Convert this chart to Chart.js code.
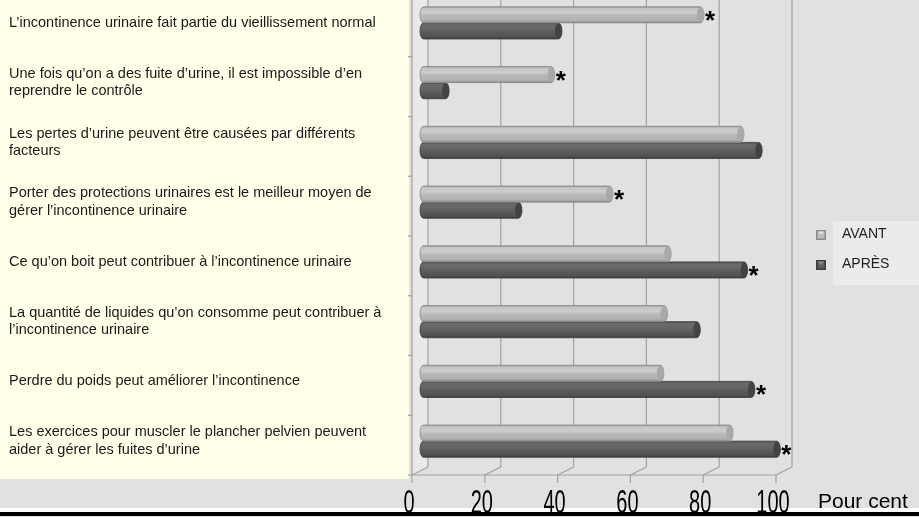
<!DOCTYPE html>
<html lang="fr">
<head>
<meta charset="utf-8">
<title>Incontinence urinaire : avant / après</title>
<script src="https://cdn.jsdelivr.net/npm/chart.js@4.4.1/dist/chart.umd.min.js"></script>
<style>
  html, body { margin: 0; padding: 0; background: #e1e1e1; }
  #wrap { position: relative; width: 919px; height: 517px; overflow: hidden; }
  #chart { position: absolute; left: 0; top: -7px; }
</style>
</head>
<body>
<div id="wrap"><canvas id="chart" width="919" height="524"></canvas></div>
<script>
const categories = [
  'L’incontinence urinaire fait partie du vieillissement normal',
  ['Une fois qu’on a des fuite d’urine, il est impossible d’en', 'reprendre le contrôle'],
  ['Les pertes d’urine peuvent être causées par différents', 'facteurs'],
  ['Porter des protections urinaires est le meilleur moyen de', 'gérer l’incontinence urinaire'],
  'Ce qu’on boit peut contribuer à l’incontinence urinaire',
  ['La quantité de liquides qu’on consomme peut contribuer à', 'l’incontinence urinaire'],
  'Perdre du poids peut améliorer l’incontinence',
  ['Les exercices pour muscler le plancher pelvien peuvent', 'aider à gérer les fuites d’urine']
];
const avant = [78, 37, 89, 53, 69, 68, 67, 86];
const apres = [39, 8, 94, 28, 90, 77, 92, 99];
// différences significatives (astérisque au bout de la barre)
const etoileAvant = [1, 1, 0, 1, 0, 0, 0, 0];
const etoileApres = [0, 0, 0, 0, 1, 0, 1, 1];
const xTicks = [0, 20, 40, 60, 80, 100];
const xTitle = 'Pour cent';

const SHIFT = 7;            // le canvas est remonté de 7px dans la page
const py = v => v + SHIFT;
const FONT = '"Liberation Sans", Arial, sans-serif';

function line(ctx, x1, y1, x2, y2) {
  ctx.beginPath(); ctx.moveTo(x1, y1); ctx.lineTo(x2, y2); ctx.stroke();
}

function cylinder(ctx, x0, x1, yc, h, stops, edge, cap) {
  const t = yc - h / 2, ry = h / 2;
  const r = Math.min(3.5, (x1 - x0) / 2);
  const g = ctx.createLinearGradient(0, t, 0, t + h);
  stops.forEach(s => g.addColorStop(s[0], s[1]));
  ctx.save();
  ctx.beginPath();
  ctx.moveTo(x0 + r, t);
  ctx.lineTo(x1 - r, t);
  ctx.ellipse(x1 - r, yc, r, ry, 0, -Math.PI / 2, Math.PI / 2);
  ctx.lineTo(x0 + r, t + h);
  ctx.ellipse(x0 + r, yc, r, ry, 0, Math.PI / 2, Math.PI * 1.5);
  ctx.closePath();
  ctx.fillStyle = g;
  ctx.fill();
  ctx.strokeStyle = edge;
  ctx.lineWidth = 0.8;
  ctx.stroke();
  // face du bout
  ctx.beginPath();
  ctx.ellipse(x1 - r, yc, r, ry - 0.6, 0, 0, Math.PI * 2);
  ctx.fillStyle = cap;
  ctx.fill();
  ctx.restore();
}

const decor = {
  id: 'decor',
  beforeDraw(chart) {
    const ctx = chart.ctx, a = chart.chartArea;
    const xs = chart.scales.x, ys = chart.scales.y;
    const X = v => xs.getPixelForValue(v);
    const bk = a.bottom - 4, fr = a.bottom + 4;
    ctx.save();
    ctx.fillStyle = '#e1e1e1';
    ctx.fillRect(0, 0, chart.width, chart.height);
    ctx.fillStyle = '#ffffea';
    ctx.fillRect(0, 0, 409, py(479));

    // paroi gauche
    ctx.fillStyle = '#e9e9e9';
    ctx.beginPath();
    ctx.moveTo(X(0) - 8, 0); ctx.lineTo(X(0) + 8, 0);
    ctx.lineTo(X(0) + 8, bk); ctx.lineTo(X(0) - 8, fr);
    ctx.closePath(); ctx.fill();

    ctx.strokeStyle = '#a2a2a2';
    ctx.lineWidth = 1.2;
    xTicks.forEach(v => {
      line(ctx, X(v) + 8, 0, X(v) + 8, bk);
      line(ctx, X(v) + 8, bk, X(v) - 8, fr);
      line(ctx, X(v) - 8, fr, X(v) - 8, fr + 8);
    });
    line(ctx, X(0) - 8, 0, X(0) - 8, fr);
    line(ctx, X(0) - 8, fr, X(100) - 8, fr);

    // graduations de l'axe des catégories
    const step = ys.getPixelForValue(1) - ys.getPixelForValue(0);
    for (let i = 0; i <= categories.length; i++) {
      const y = ys.getPixelForValue(0) - step / 2 + i * step + 4;
      line(ctx, X(0) - 12, y, X(0) - 8, y);
    }
    ctx.restore();
  },
  beforeDatasetDraw(chart, args) {
    const ds = chart.data.datasets[args.index];
    args.meta.data.forEach(bar => {
      cylinder(chart.ctx, bar.base, bar.x, bar.y, bar.height, ds.shade, ds.edge, ds.cap);
    });
    return false;
  },
  afterDatasetsDraw(chart) {
    const ctx = chart.ctx;
    ctx.save();
    ctx.fillStyle = '#000';
    ctx.font = 'bold 26px ' + FONT;
    ctx.textAlign = 'left';
    ctx.textBaseline = 'alphabetic';
    [etoileAvant, etoileApres].forEach((marks, d) => {
      chart.getDatasetMeta(d).data.forEach((bar, i) => {
        if (marks[i]) ctx.fillText('*', bar.x + 1, bar.y + 14);
      });
    });
    ctx.restore();
  },
  afterDraw(chart) {
    const ctx = chart.ctx, xs = chart.scales.x;
    ctx.save();
    ctx.fillStyle = '#ffffff';
    ctx.fillRect(0, py(508), chart.width, 4);

    ctx.fillStyle = '#000';
    ctx.font = '20px ' + FONT;
    ctx.textAlign = 'center';
    ctx.textBaseline = 'alphabetic';
    xTicks.forEach(v => {
      ctx.save();
      ctx.translate(xs.getPixelForValue(v) - 11, py(513));
      ctx.scale(1, 1.7);
      ctx.fillText(String(v), 0, 0);
      ctx.restore();
    });
    ctx.textAlign = 'left';
    ctx.font = '21px ' + FONT;
    ctx.fillText(xTitle, 818, py(508));
    ctx.fillRect(0, py(512), chart.width, 4);

    // légende
    ctx.fillStyle = '#ebebeb';
    ctx.fillRect(833, py(221), 86, 64);
    const rows = [235, 265];
    chart.data.datasets.forEach((ds, i) => {
      const y = py(rows[i]), x = 816, s = 10;
      ctx.fillStyle = ds.edge;
      ctx.fillRect(x, y - s / 2, s, s);
      ctx.fillStyle = ds.backgroundColor;
      ctx.fillRect(x + 1.5, y - s / 2 + 1.5, s - 3, s - 3);
      ctx.fillStyle = ds.light;
      ctx.beginPath();
      ctx.moveTo(x + 1.5, y - s / 2 + 1.5); ctx.lineTo(x + s - 1.5, y - s / 2 + 1.5);
      ctx.lineTo(x + s / 2, y); ctx.closePath(); ctx.fill();
      ctx.fillStyle = '#1e1e1e';
      ctx.font = '14px ' + FONT;
      ctx.textBaseline = 'middle';
      ctx.fillText(ds.label, 842, y - 1);
    });
    ctx.restore();
  }
};

new Chart(document.getElementById('chart'), {
  type: 'bar',
  data: {
    labels: categories,
    datasets: [{
      label: 'AVANT',
      data: avant,
      backgroundColor: '#bdbdbd',
      light: '#e2e2e2',
      edge: '#8c8c8c',
      cap: '#a9a9a9',
      shade: [[0, '#8e8e8e'], [0.1, '#c3c3c3'], [0.35, '#cdcdcd'], [0.55, '#b8b8b8'], [0.85, '#b1b1b1'], [1, '#8a8a8a']]
    }, {
      label: 'APRÈS',
      data: apres,
      backgroundColor: '#5e5e5e',
      light: '#8a8a8a',
      edge: '#3c3c3c',
      cap: '#434343',
      shade: [[0, '#454545'], [0.12, '#6a6a6a'], [0.4, '#656565'], [0.6, '#5a5a5a'], [0.88, '#515151'], [1, '#383838']]
    }]
  },
  options: {
    indexAxis: 'y',
    responsive: false,
    animation: false,
    devicePixelRatio: 1,
    categoryPercentage: 0.54,
    barPercentage: 1,
    layout: { padding: { left: 9, right: 135, top: 0, bottom: 0 } },
    plugins: { legend: { display: false }, tooltip: { enabled: false } },
    scales: {
      x: {
        min: 0,
        max: 100,
        ticks: { display: false, stepSize: 20 },
        grid: { display: false },
        border: { display: false },
        afterFit(axis) { axis.height = 46; }
      },
      y: {
        ticks: {
          autoSkip: false,
          crossAlign: 'far',
          color: '#1a1a1a',
          font: { family: FONT, size: 14.5, lineHeight: 1.2 }
        },
        grid: { display: false },
        border: { display: false },
        afterFit(axis) {
          axis.width = 411;
          axis.paddingTop = 0;
          axis.paddingBottom = 0;
        }
      }
    }
  },
  plugins: [decor]
});
</script>
</body>
</html>
